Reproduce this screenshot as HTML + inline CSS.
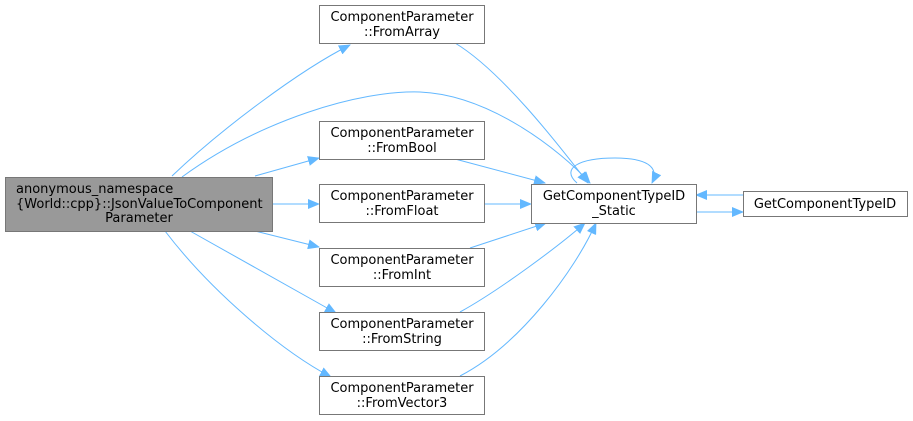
<!DOCTYPE html>
<html><head><style>body{margin:0;background:#fff}svg{display:block}</style></head><body>
<svg width="913" height="421" viewBox="0 0 913 421" xmlns="http://www.w3.org/2000/svg" font-family="DejaVu Sans, Liberation Sans, sans-serif" font-size="13">
<defs><marker id="a" markerWidth="12" markerHeight="10" refX="11" refY="5" orient="auto" markerUnits="userSpaceOnUse"><path d="M0,0 L12,5 L0,10 z" fill="#63b8ff"/></marker></defs>
<g fill="none" stroke="#63b8ff" stroke-width="1" marker-end="url(#a)">
<path d="M172,176 C220,130 300,70 350,45"/>
<path d="M182,177 C260,120 360,90 420,92 C490,95 560,150 590,183"/>
<path d="M255,176 L319,158"/>
<path d="M272,204 L319,204"/>
<path d="M255,231 L319,247"/>
<path d="M190,231 L336,313"/>
<path d="M165,231 C210,290 280,350 331,377"/>
<path d="M455,43 C500,70 555,140 588,183"/>
<path d="M455,159 L545,183"/>
<path d="M484,204 L531,204"/>
<path d="M470,248 L546,223"/>
<path d="M460,312 C500,290 560,245 585,223"/>
<path d="M460,376 C520,345 575,270 596,223"/>
<path d="M577,183 C560,168 580,158 615,158 C645,158 660,166 652,183"/>
<path d="M743,195 L696,195"/>
<path d="M696,212 L743,212"/>
</g>
<g stroke="#777" stroke-width="1">
<rect x="5.5" y="177.5" width="267" height="54" fill="#999"/>
<rect x="319.5" y="5.5" width="165" height="38" fill="#fff"/>
<rect x="319.5" y="121.5" width="165" height="38" fill="#fff"/>
<rect x="319.5" y="184.5" width="165" height="38" fill="#fff"/>
<rect x="319.5" y="248.5" width="165" height="38" fill="#fff"/>
<rect x="319.5" y="312.5" width="165" height="38" fill="#fff"/>
<rect x="319.5" y="376.5" width="165" height="38" fill="#fff"/>
<rect x="531.5" y="184.5" width="165" height="39" fill="#fff"/>
<rect x="743.5" y="191.5" width="164" height="25" fill="#fff"/>
</g>
<g fill="#000" text-anchor="middle">
<text x="16" y="193" text-anchor="start">anonymous_namespace</text>
<text x="16" y="208" text-anchor="start">{World::cpp}::JsonValueToComponent</text>
<text x="139" y="222">Parameter</text>
<text x="402" y="21">ComponentParameter</text><text x="402" y="36">::FromArray</text>
<text x="402" y="137">ComponentParameter</text><text x="402" y="152">::FromBool</text>
<text x="402" y="200">ComponentParameter</text><text x="402" y="215">::FromFloat</text>
<text x="402" y="264">ComponentParameter</text><text x="402" y="279">::FromInt</text>
<text x="402" y="328">ComponentParameter</text><text x="402" y="343">::FromString</text>
<text x="402" y="392">ComponentParameter</text><text x="402" y="407">::FromVector3</text>
<text x="614" y="200">GetComponentTypeID</text><text x="614" y="215">_Static</text>
<text x="825" y="208">GetComponentTypeID</text>
</g>
</svg>
</body></html>
